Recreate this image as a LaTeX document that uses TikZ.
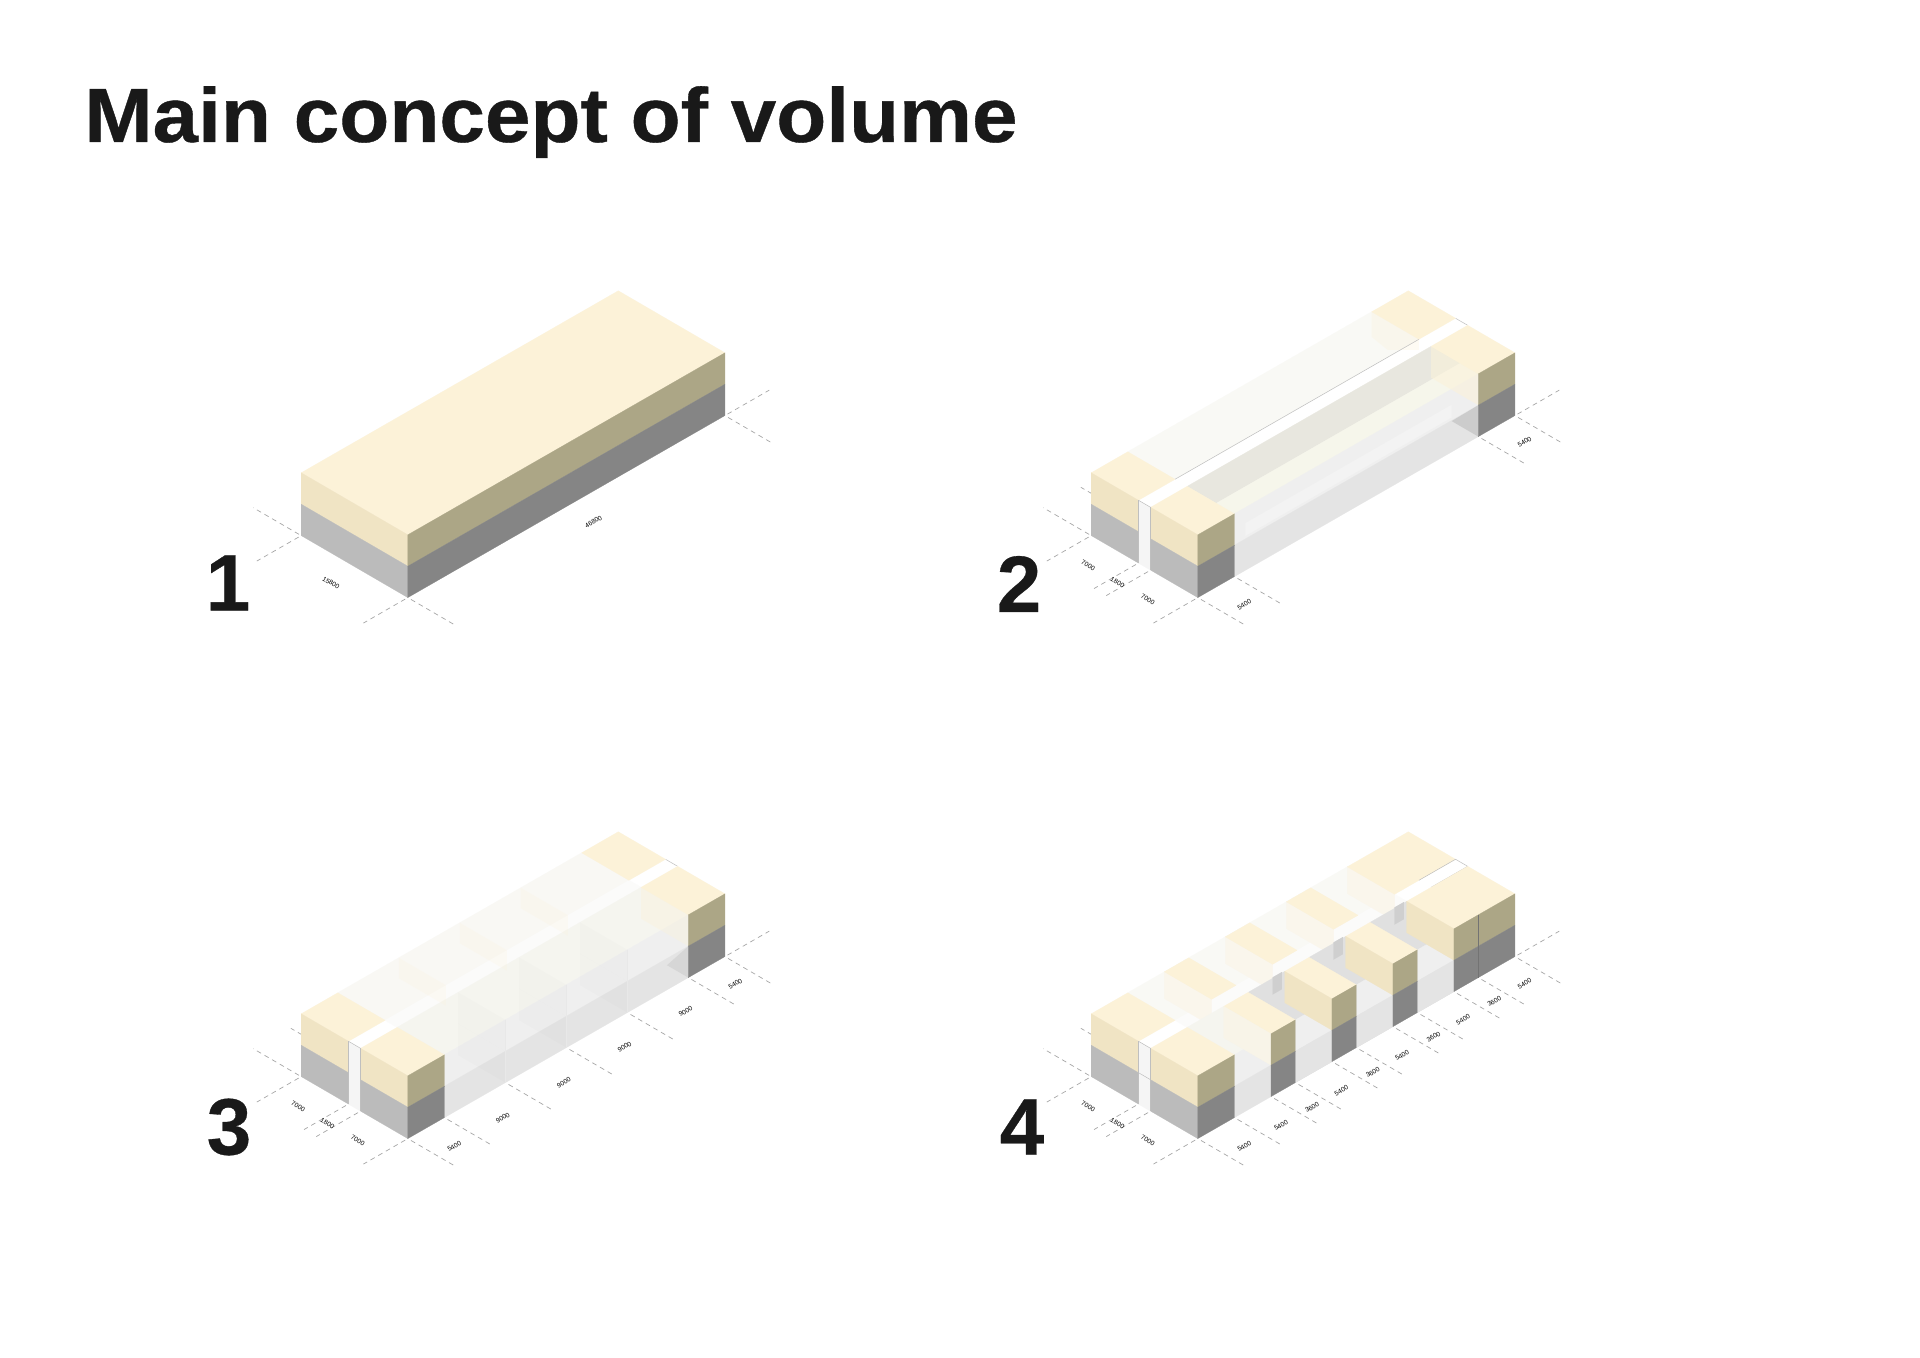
\documentclass[tikz,border=0pt]{standalone}
\usepackage{fontspec}
\setmainfont{Liberation Sans}
\newfontfamily\ttlfont[UprightFont=* Bold,FakeBold=0.5,FakeStretch=1.064]{Liberation Sans}
\newfontfamily\numfont[UprightFont=* Bold,FakeBold=0.4]{Liberation Sans}
\definecolor{topc}{HTML}{FCF2D8}
\definecolor{lefta}{HTML}{F0E4C4}
\definecolor{leftb}{HTML}{BBBBBB}
\definecolor{righta}{HTML}{ACA686}
\definecolor{rightb}{HTML}{858585}
\definecolor{fartop}{HTML}{F9F9F5}
\definecolor{banddark}{HTML}{E8E7DF}
\definecolor{bandlight}{HTML}{F6F6EB}
\definecolor{sideup}{HTML}{EFEFEF}
\definecolor{sidelow}{HTML}{E4E4E4}
\definecolor{sidemid}{HTML}{F3F3F3}
\definecolor{midfar}{HTML}{F9F8F4}
\definecolor{midcorr}{HTML}{FBFBFA}
\definecolor{midnear}{HTML}{F5F5EF}
\definecolor{gapfloor}{HTML}{E0E0E0}
\definecolor{gapmark}{HTML}{CFCFCF}
\definecolor{palewarm}{HTML}{FAF6EC}
\definecolor{paleside}{HTML}{F8F4E8}
\definecolor{stripc}{HTML}{F5F5F5}
\newcommand\zface[6]{\path[#1] (#3,#5,#2)--(#4,#5,#2)--(#4,#6,#2)--(#3,#6,#2)--cycle;}
\newcommand\uface[6]{\path[#1] (#2,#3,#5)--(#2,#4,#5)--(#2,#4,#6)--(#2,#3,#6)--cycle;}
\newcommand\vface[6]{\path[#1] (#3,#2,#5)--(#4,#2,#5)--(#4,#2,#6)--(#3,#2,#6)--cycle;}
\newcommand\solidbox[4]{%
 \zface{sty=topc}{2}{#1}{#2}{#3}{#4}%
 \uface{sty=lefta}{#1}{#3}{#4}{1}{2}\uface{sty=leftb}{#1}{#3}{#4}{0}{1}%
 \vface{sty=righta}{#3}{#1}{#2}{1}{2}\vface{sty=rightb}{#3}{#1}{#2}{0}{1}}
\newcommand\frontblocks{%
 \zface{sty=topc}{2}{0}{.1154}{.557}{1}%
 \uface{sty=lefta}{0}{.557}{1}{1}{2}\uface{sty=leftb}{0}{.557}{1}{0}{1}%
 \solidbox{0}{.1154}{0}{.443}}
\newcommand\backblocks{%
 \zface{sty=topc}{2}{.8846}{1}{.557}{1}%
 \zface{sty=topc}{2}{.8846}{1}{0}{.443}%
 \vface{sty=righta}{0}{.8846}{1}{1}{2}\vface{sty=rightb}{0}{.8846}{1}{0}{1}}
\newcommand\lab[5]{\node[#1] (#2) at ({(#3-470)/5.6*1pt},{-(#4-982)/6*1pt}) {#5};}
\newcommand\uticks[1]{\foreach \t in {#1}{\draw[dim] (\t,-.03,0)--(\t,-.45,0);}}
\newcommand\common{%
 \draw[dim] (-.008,0,0)--(-.14,0,0);\draw[dim] (-.008,1,0)--(-.14,1,0);
 \draw[dim] (0,1.02,0)--(0,1.45,0);\draw[dim] (1.008,0,0)--(1.14,0,0);}
\newcommand\wingticks{\draw[dim] (-.008,.443,0)--(-.14,.443,0);\draw[dim] (-.008,.557,0)--(-.14,.557,0);\draw[dim] (.1154,1.05,0)--(.1154,1.44,0);}
\newcommand\strip{%
 \uface{sty=stripc}{0}{.443}{.557}{0}{2}%
 \draw[thin line] (0,.443,2)--(0,.557,2);\draw[thin line] (0,.443,2)--(0,.443,0);\draw[thin line] (0,.557,2)--(0,.557,0);}
\newcommand\widthlabels[1]{%
 \lab{dimv}{#1a}{163}{885}{7000}\lab{dimv}{#1b}{245}{937}{1800}\lab{dimv}{#1c}{330}{988}{7000}}
\tikzset{
 sty/.style={fill=#1,draw=#1,line width=.1pt},
 dim/.style={draw=black!35,line width=.35pt,dash pattern=on 2.4pt off 2pt},
 thin line/.style={draw=black!25,line width=.25pt},
 dimu/.style={font=\fontsize{3.3}{3.5}\selectfont,rotate=30,inner sep=0pt,text=black},
 dimv/.style={font=\fontsize{3.3}{3.5}\selectfont,rotate=-30,inner sep=0pt,text=black},
 iso/.style={x={(158.55pt,91pt)},y={(-53.3pt,31pt)},z={(0pt,15.7pt)}},
 numb/.style={font=\fontsize{40}{42}\numfont\selectfont,text=black!90,inner sep=0pt},
}
\begin{document}
\begin{tikzpicture}
\useasboundingbox[fill=white] (0,0) rectangle (960pt,-679pt);
\node[anchor=base west,font=\fontsize{38.5}{40}\ttlfont\selectfont,text=black!90,inner sep=0pt] (title) at (42pt,-71pt) {Main concept of volume};
\node[numb] (n1) at (114pt,-291.5pt) {1};
\node[numb] (n2) at (509.5pt,-292pt) {2};
\node[numb] (n3) at (114.5pt,-563.5pt) {3};
\node[numb] (n4) at (511pt,-563.5pt) {4};

% ---------- panel 1
\begin{scope}[shift={(203.9pt,-298.8pt)},iso]
 \common\uticks{0,1}
 \solidbox{0}{1}{0}{1}
 \lab{dimv}{pa}{255}{938}{15800}
 \lab{dimu}{pb}{990}{755}{46800}
\end{scope}

% ---------- panel 2
\begin{scope}[shift={(598.9pt,-298.8pt)},iso]
 \common\wingticks\uticks{0,.1154,.8846,1}
 \zface{sty=fartop}{2}{.1154}{.8846}{.557}{1}
 \zface{sty=banddark}{2}{.1154}{.8846}{.17}{.443}
 \zface{sty=bandlight}{2}{.1154}{.8846}{0}{.17}
 \vface{sty=sideup}{0}{.1154}{.8846}{1}{2}
 \vface{sty=sidelow}{0}{.1154}{.8846}{0}{1}
 \vface{sty=sidemid}{0}{.15}{.8}{1.1}{1.5}
 \path[fill=topc,fill opacity=.55] (.8846,0,2)--(.8846,.443,2)--(.8846,.443,1)--(.8846,0,1)--cycle;
 \path[fill=black!20] (.8846,0,1)--(.8846,0,0)--(.8846,.25,0)--cycle;
 \path[fill=topc,fill opacity=.3] (.8846,1,2)--(.8846,.557,2)--(.8846,.557,1.66)--(.8846,.85,1.08)--(.8846,1,1.2)--cycle;
 \draw[thin line] (.1154,.557,2)--(.8846,.557,2);
 \draw[thin line] (1,.443,2)--(1,.557,2);
 \backblocks
 \frontblocks
 \strip
 \widthlabels{q}
 \lab{dimu}{qd}{600}{1003}{5400}\lab{dimu}{qe}{1385}{515}{5400}
\end{scope}

% ---------- panel 3
\begin{scope}[shift={(203.9pt,-569.3pt)},iso]
 \common\wingticks\uticks{0,.1154,.3077,.5,.6923,.8846,1}
 \zface{sty=midfar}{2}{.1154}{.8846}{.557}{1}
 \zface{sty=midcorr}{2}{.1154}{.8846}{.443}{.557}
 \zface{sty=midnear}{2}{.1154}{.8846}{0}{.443}
 \vface{sty=sideup}{0}{.1154}{.8846}{1}{2}
 \vface{sty=sidelow}{0}{.1154}{.8846}{0}{1}
 \foreach \t in {.3077,.5,.6923}{
  \uface{fill=topc,fill opacity=.2}{\t}{.557}{1}{1.35}{2}
  \uface{fill=black!30,fill opacity=.035}{\t}{0}{.443}{1}{2}
  \uface{fill=black!40,fill opacity=.03}{\t}{0}{.443}{0}{1}
  \draw[draw=black!9,line width=.15pt] (\t,0,2)--(\t,0,0);
 }
 \path[fill=topc,fill opacity=.35] (.8846,0,2)--(.8846,.443,2)--(.8846,.443,1)--(.8846,0,1)--cycle;
 \path[fill=black!16] (.8846,0,1)--(.8846,0,0)--(.8846,.2,0)--cycle;
 \draw[thin line] (1,.443,2)--(1,.557,2);
 \backblocks
 \frontblocks
 \strip
 \widthlabels{r}
 \lab{dimu}{ra}{600}{1005}{5400}\lab{dimu}{rb}{736}{920}{9000}\lab{dimu}{rc}{907}{814}{9000}
 \lab{dimu}{rd}{1077}{707}{9000}\lab{dimu}{re}{1248}{600}{9000}\lab{dimu}{rf}{1387}{518}{5400}
\end{scope}

% ---------- panel 4
\begin{scope}[shift={(598.9pt,-569.3pt)},iso]
 \common\wingticks\uticks{0,.1154,.2308,.3077,.4231,.5,.6154,.6923,.8077,.8846,1}
 % far wing
 \zface{sty=fartop}{2}{.1154}{.8077}{.557}{1}
 \zface{sty=midcorr}{2}{.1154}{.8077}{.443}{.557}
 \foreach \t/\s in {.2308/.3077,.4231/.5,.6154/.6923}{
  \uface{sty=palewarm}{\t}{.557}{1}{1.15}{2}
  \zface{sty=topc}{2}{\t}{\s}{.557}{1}
 }
 \uface{sty=palewarm}{.8077}{.557}{1}{1.15}{2}
 \zface{sty=topc}{2}{.8077}{1}{.557}{1}
 \draw[thin line] (.8846,.443,2)--(1,.443,2)--(1,.557,2)--(.8846,.557,2);
 % first gap of the near wing
 \zface{sty=midnear}{2}{.1154}{.2308}{0}{.443}
 % remaining gaps
 \foreach \a/\b in {.3077/.4231,.5/.6154,.6923/.8077}{
  \path[sty=gapfloor] (\a,.443,2)--(\b,.443,2)--(\b,0,0)--(\a,0,0)--cycle;
  \pgfmathsetmacro\rr{\b+.029}
  \vface{sty=gapmark}{.557}{\b}{\rr}{1.04}{1.58}
 }
 % faces of the gaps, in front of what lies behind them
 \foreach \a/\b in {.1154/.2308,.3077/.4231,.5/.6154,.6923/.8077}{
  \vface{sty=sideup}{0}{\a}{\b}{1}{2}
  \vface{sty=sidelow}{0}{\a}{\b}{0}{1}
 }
 % near solids
 \zface{sty=topc}{2}{.8077}{1}{0}{.443}
 \uface{sty=lefta}{.8077}{0}{.443}{1}{2}
 \vface{sty=righta}{0}{.8077}{1}{1}{2}
 \vface{sty=rightb}{0}{.8077}{1}{0}{1}
 \draw[draw=black!55,line width=.15pt] (.8846,0,2)--(.8846,0,0);
 \foreach \t/\s in {.6154/.6923,.4231/.5}{
  \zface{sty=topc}{2}{\t}{\s}{0}{.443}
  \uface{sty=lefta}{\t}{0}{.443}{1}{2}
  \vface{sty=righta}{0}{\t}{\s}{1}{2}
  \vface{sty=rightb}{0}{\t}{\s}{0}{1}
 }
 % pale first solid
 \zface{sty=topc}{2}{.2308}{.3077}{0}{.443}
 \uface{sty=paleside}{.2308}{0}{.443}{1}{2}
 \vface{sty=righta}{0}{.2308}{.3077}{1}{2}
 \vface{sty=rightb}{0}{.2308}{.3077}{0}{1}
 % end boxes
 \zface{sty=topc}{2}{0}{.1154}{.557}{1}
 \uface{sty=lefta}{0}{.557}{1}{1}{2}\uface{sty=leftb}{0}{.557}{1}{0}{1}
 \solidbox{0}{.1154}{0}{.443}
 \strip
 \draw[thin line] (0,.443,1)--(0,.557,1);
 \widthlabels{s}
 \lab{dimu}{sa}{600}{1005}{5400}\lab{dimu}{sb}{703}{942}{5400}\lab{dimu}{sc}{790}{888}{3600}
 \lab{dimu}{sd}{872}{838}{5400}\lab{dimu}{se}{960}{783}{3600}\lab{dimu}{sf}{1042}{732}{5400}
 \lab{dimu}{sg}{1130}{677}{3600}\lab{dimu}{sh}{1213}{625}{5400}\lab{dimu}{si}{1300}{570}{3600}
 \lab{dimu}{sj}{1385}{517}{5400}
\end{scope}
\end{tikzpicture}
\end{document}
